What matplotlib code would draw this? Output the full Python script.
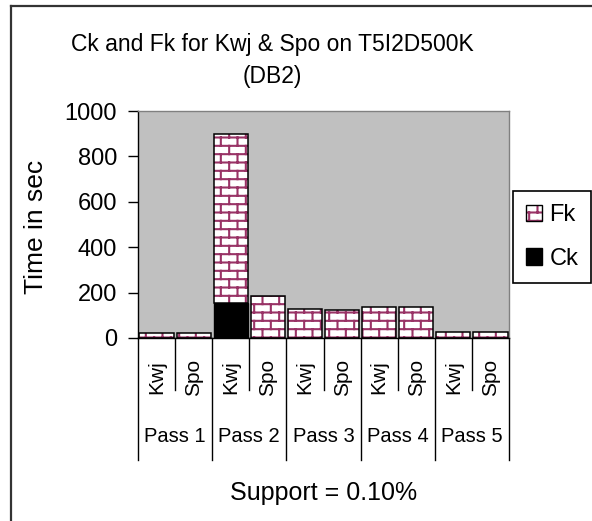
import warnings
import numpy as np
import matplotlib
matplotlib.use("Agg")
import matplotlib.pyplot as plt
from matplotlib import hatch as mhatch
from matplotlib.path import Path
from matplotlib.patches import Patch
from matplotlib.lines import Line2D
from matplotlib.legend_handler import HandlerTuple
from matplotlib.transforms import blended_transform_factory

warnings.filterwarnings("ignore", message=".*hatch must consist.*")

# ---- data -------------------------------------------------------------
passes = ["Pass 1", "Pass 2", "Pass 3", "Pass 4", "Pass 5"]
algorithms = ["Kwj", "Spo"]
ck_kwj = [0, 155, 0, 0, 0]
ck_spo = [0, 0, 0, 0, 0]
fk_kwj = [20, 745, 126, 135, 27]
fk_spo = [20, 186, 125, 135, 27]
yticks = [0, 200, 400, 600, 800, 1000]

title_line1 = "Ck and Fk for Kwj & Spo on T5I2D500K"
title_line2 = "(DB2)"
ylabel = "Time in sec"
xlabel = "Support = 0.10%"

PLUM = "#993366"
FONT = ["Liberation Sans", "DejaVu Sans"]
plt.rcParams["font.family"] = FONT
plt.rcParams["hatch.linewidth"] = 1.5


# ---- brick fill pattern ------------------------------------------------
class BrickHatch(mhatch.HatchPatternBase):
    """Brick wall: horizontal courses with staggered vertical joints ('b')."""

    def __init__(self, hatch, density):
        n = hatch.count("b")
        self.rows = 12 if n else 0
        self.cols = 6
        self.num_vertices = 2 * self.rows + 2 * (self.rows * self.cols + self.cols) if n else 0

    def set_vertices_and_codes(self, vertices, codes):
        rows, cols = self.rows, self.cols
        segs = []
        ys = (np.arange(rows) + 0.5) / rows
        for y in ys:
            segs.append(((0.0, y), (1.0, y)))
        for k in range(rows):
            shift = 0.5 * (k % 2) + 0.25
            for j in range(cols):
                xj = (j + shift) / cols
                if k < rows - 1:
                    segs.append(((xj, ys[k]), (xj, ys[k + 1])))
                else:
                    segs.append(((xj, ys[k]), (xj, 1.0)))
                    segs.append(((xj, 0.0), (xj, ys[0])))
        arr = np.array(segs).reshape(-1, 2)
        vertices[:] = arr
        codes[0::2] = Path.MOVETO
        codes[1::2] = Path.LINETO

    get_vertices_and_codes = set_vertices_and_codes


mhatch._hatch_types.append(BrickHatch)

# ---- layout helpers (pixel -> figure fraction) -------------------------
W, H = 592, 521


def fx(px):
    return px / W


def fy(py):
    return 1 - py / H


fig = plt.figure(figsize=(W / 100, H / 100), dpi=100)
fig.patch.set_facecolor("white")

ax = fig.add_axes([fx(138), fy(338), fx(509) - fx(138), fy(111) - fy(338)])
ax.set_facecolor("#c0c0c0")

labels = [a for _ in passes for a in algorithms]
ck = np.ravel(np.column_stack([ck_kwj, ck_spo]))
fk = np.ravel(np.column_stack([fk_kwj, fk_spo]))
x = np.arange(len(labels))
width = 0.92

ax.bar(x, ck, width, color="black", edgecolor="black", linewidth=1.0, zorder=2)
ax.bar(x, fk, width, bottom=ck, color="white", edgecolor=PLUM,
       linewidth=0, hatch="b", zorder=2)
ax.bar(x, fk, width, bottom=ck, fill=False, edgecolor="black",
       linewidth=1.1, zorder=3)

ax.set_xlim(-0.5, len(labels) - 0.5)
ax.set_ylim(0, 1000)
ax.set_yticks(yticks)
ax.set_xticks([])
ax.tick_params(axis="y", direction="out", length=7.2, width=1.0, pad=8,
               labelsize=17, colors="black")

for side in ("left", "bottom"):
    ax.spines[side].set_color("black")
    ax.spines[side].set_linewidth(1.0)
for side in ("top", "right"):
    ax.spines[side].set_color("#808080")
    ax.spines[side].set_linewidth(1.0)

# ---- two-level category axis -------------------------------------------
trans = blended_transform_factory(ax.transData, fig.transFigure)
for i, b in enumerate(np.arange(-0.5, len(labels), 1.0)):
    bottom = 460 if i % 2 == 0 else 390
    ax.add_line(Line2D([b, b], [fy(338), fy(bottom)], transform=trans,
                       color="black", linewidth=1.0, clip_on=False))

for xi, lab in zip(x, labels):
    ax.text(xi, fy(377), lab, transform=trans, rotation=90, ha="center",
            va="center", fontsize=15)

for i, p in enumerate(passes):
    ax.text(2 * i + 0.5, fy(437), p, transform=trans, ha="center",
            va="center", fontsize=14.5)

fig.text(fx(323.5), fy(493), xlabel, ha="center", va="center", fontsize=18)
fig.text(fx(36), fy(227), ylabel, rotation=90, ha="center", va="center",
         fontsize=19)
fig.text(fx(272), fy(44), title_line1, ha="center", va="center", fontsize=16.5)
fig.text(fx(272), fy(77), title_line2, ha="center", va="center", fontsize=16.5)

# ---- legend ----------------------------------------------------------
fk_handle = (Patch(facecolor="white", edgecolor=PLUM, linewidth=0, hatch="b"),
             Patch(fill=False, edgecolor="black", linewidth=1.0))
ck_handle = Patch(facecolor="black", edgecolor="black")
leg = fig.legend([fk_handle, ck_handle], ["Fk", "Ck"], loc="center",
                 bbox_to_anchor=(fx(552), fy(237)),
                 handler_map={tuple: HandlerTuple(ndivide=1)},
                 frameon=True, fancybox=False, framealpha=1,
                 edgecolor="black", handlelength=0.7, handleheight=0.7,
                 handletextpad=0.3, labelspacing=0.9, borderpad=0.55,
                 fontsize=17)
leg.get_frame().set_linewidth(1.2)

# ---- chart-area border -------------------------------------------------
fig.add_artist(Line2D([fx(11), fx(11)], [fy(6), 0], transform=fig.transFigure,
                      color="#333333", linewidth=1.6))
fig.add_artist(Line2D([fx(11), 1], [fy(6), fy(6)], transform=fig.transFigure,
                      color="#333333", linewidth=1.6))

fig.savefig("out.png", dpi=100)
